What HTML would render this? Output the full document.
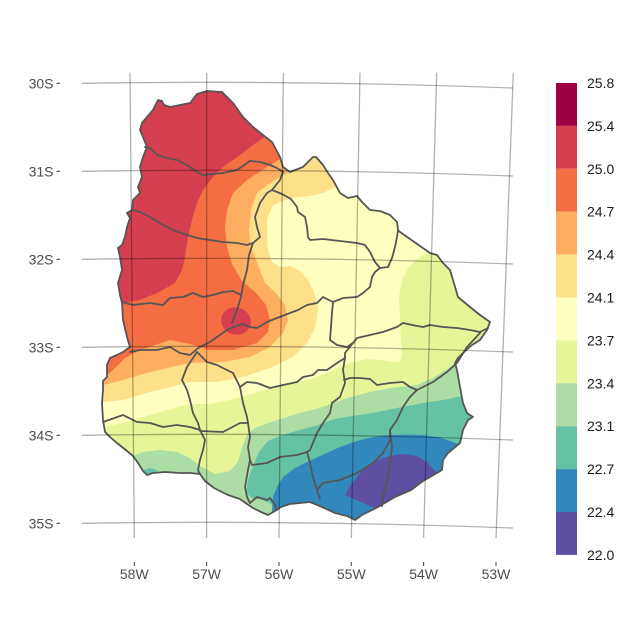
<!DOCTYPE html>
<html><head><meta charset="utf-8"><style>
html,body{margin:0;padding:0;background:#fff;}
svg{display:block;font-family:"Liberation Sans",sans-serif;}
</style></head><body>
<svg width="630" height="630" viewBox="0 0 630 630" xmlns="http://www.w3.org/2000/svg">
<defs>
<clipPath id="uy"><path id="uyp" d="M158,100 L162,101 L164,105 L170,107 L180,105 L190,103 L197,94 L207,91 L222,92 L227,97 L233,103 L243,117 L253,127 L263,135 L272,142 L280,157 L283,167 L290,172 L303,167 L310,160 L313,157 L316,157 L323,165 L328,173 L333,180 L340,193 L348,198 L357,196 L362,202 L370,210 L380,211 L390,215 L397,222 L398,230 L400,232 L430,253 L437,255 L443,263 L450,270 L453,280 L458,297 L470,307 L480,315 L490,322 L487,330 L480,340 L472,345 L463,353 L458,358 L455,363 L457,370 L460,387 L463,403 L467,413 L473,417 L468,420 L463,430 L460,443 L448,453 L443,460 L442,470 L437,473 L423,481 L411,490 L395,497 L378,507 L362,515 L355,520 L347,516 L335,513 L322,507 L310,502 L300,503 L290,504 L281,507 L275,511 L268,515 L261,512 L253,508 L247,504 L240,499 L228,495 L214,488 L205,481 L200,474 L190,473 L180,473 L165,472 L153,473 L147,475 L143,471 L138,463 L133,456 L127,451 L117,443 L110,437 L105,432 L103,420 L102,403 L103,390 L103,381 L107,377 L107,365 L110,358 L117,355 L123,352 L130,347 L127,337 L123,320 L122,303 L120,295 L118,283 L122,270 L120,257 L118,248 L122,245 L125,237 L127,227 L130,218 L127,213 L132,210 L133,200 L140,193 L138,187 L142,177 L140,167 L143,157 L147,147 L143,137 L140,130 L142,123 L147,117 L153,110 L156,104 Z"/></clipPath>
</defs>

<g clip-path="url(#uy)">
<rect x="0" y="0" width="630" height="630" fill="#FFFFBF"/>
<path fill="#E6F598" d="M90,427 L104,427 L123,423 L140,418 L160,412 L190,404 L210,404 L230,400 L257,392 L283,385 L307,380 L327,373 L340,367 L353,362 L367,359 L380,360 L393,362 L400,362 L402,353 L401,340 L400,320 L399,297 L402,280 L408,268 L418,258 L427,254 L440,246 L530,240 L530,560 L90,560 Z"/>
<path fill="#ABDDA4" d="M110,456 L133,456 L143,452 L160,450 L177,452 L190,458 L200,466 L215,474 L230,471 L238,462 L242,447 L248,433 L257,427 L277,420 L300,413 L323,407 L347,398 L370,392 L390,388 L417,385 L433,378 L450,367 L467,350 L477,340 L490,328 L530,320 L530,560 L110,560 Z"/>
<path fill="#66C2A5" d="M277,540 L276,510 L270,503 L262,500 L252,498 L246,493 L248,480 L253,466 L259,452 L268,441 L280,436 L296,431 L315,426 L335,419 L352,416 L373,413 L397,408 L423,403 L443,400 L457,397 L470,394 L530,390 L530,560 L277,560 Z"/>
<path fill="#66C2A5" d="M143,470 L150,468 L157,470 L158,477 L143,477 Z"/>
<path fill="#3288BD" d="M272,540 L272,512 L273,497 L277,487 L283,477 L295,468 L307,462 L320,456 L340,447 L357,441 L373,437 L390,435 L407,434.5 L423,435 L440,437.5 L453,442 L463,446 L530,450 L530,560 L272,560 Z"/>
<path fill="#5E4FA2" d="M345,495 L352,483 L363,470 L377,460 L390,456 L403,454 L417,456 L427,462 L437,473 L450,490 L400,530 L392,516 Z"/>
<path fill="#FEE08B" d="M60,410 L103,402 L123,400 L150,392 L190,382 L217,382 L243,377 L270,368 L293,357 L307,343 L315,328 L317,318 L318,308 L315,295 L309,281 L300,271 L290,266 L280,267 L272,262 L268,250 L267,237 L267,220 L273,205 L290,198 L310,196 L323,193 L336,187 L350,178 L350,60 L60,60 Z"/>
<path fill="#FDAE61" d="M60,390 L103,385 L123,380 L150,372 L190,363 L223,362 L250,357 L270,347 L283,333 L288,320 L285,305 L276,293 L265,283 L258,265 L251,247 L249,230 L251,210 L257,193 L270,183 L287,173 L296,169 L305,163 L312,155 L312,60 L60,60 Z"/>
<path fill="#F46D43" d="M60,380 L104,378 L115,368 L125,358 L140,350 L170,340 L190,344 L210,350 L233,350 L257,343 L268,332 L270,320 L266,305 L256,293 L242,281 L232,264 L227,247 L225,227 L227,210 L233,193 L247,180 L267,167 L282,158 L295,140 L295,60 L60,60 Z"/>
<path fill="#D53E4F" d="M60,310 L118,304 L140,300 L157,293 L175,283 L182,270 L185,257 L188,237 L192,220 L197,203 L203,190 L213,177 L223,167 L240,155 L253,145 L266,136 L275,120 L275,60 L60,60 Z"/>
<ellipse cx="236" cy="321" rx="15" ry="13.5" fill="#D53E4F" transform="rotate(20 236 321)"/>
</g>

<g fill="none" stroke="#555" stroke-width="1.8" stroke-linejoin="round" stroke-linecap="round">
<path d="M145,147 L150,148 L157,155 L167,158 L177,160 L187,165 L197,172 L203,175 L213,174 L223,173 L237,170 L250,161 L260,162 L270,165 L277,168 L283,172"/>
<path d="M133,210 L140,212 L150,217 L160,223 L173,230 L187,235 L197,238 L210,240 L223,242 L237,243 L247,245 L253,243 L260,237 L257,227 L255,217 L260,203 L267,193 L272,190 L280,180 L283,172"/>
<path d="M272,190 L282,194 L291,199 L297,207 L298,212 L305,217 L307,227 L308,237 L310,240 L323,239 L340,241 L357,243 L365,245 L370,252 L375,262 L380,268 L388,267 L392,258 L395,247 L397,237 L398,230"/>
<path d="M253,243 L249,255 L247,270 L243,285 L241,297 L237,310 L232,323"/>
<path d="M122,302 L133,305 L150,303 L163,305 L170,298 L183,297 L193,293 L203,297 L213,295 L223,292 L233,291 L241,295"/>
<path d="M130,352 L140,350 L157,350 L170,347 L180,353 L190,355 L197,349 L200,347 L210,342 L217,337 L227,330 L233,327 L243,324 L250,327 L257,328 L267,322 L277,318 L290,313 L298,310 L307,305 L317,303 L323,297 L333,302"/>
<path d="M333,302 L343,298 L357,297 L363,293 L370,287 L372,277 L375,272 L380,268"/>
<path d="M333,302 L332,313 L331,327 L330,340 L337,345 L347,347 L353,343 L357,338 L370,335 L383,332 L397,327 L403,323 L417,326 L423,327 L430,325 L443,327 L457,328 L470,330 L480,332 L488,328"/>
<path d="M197,352 L187,367 L182,380 L187,390 L190,400 L193,413 L198,423 L200,430"/>
<path d="M197,352 L207,362 L217,365 L233,373 L240,387"/>
<path d="M240,387 L247,382 L257,383 L270,388 L283,385 L297,382 L303,377 L313,375 L318,370 L327,370 L337,363 L345,358 L345,353 L353,343"/>
<path d="M240,387 L243,403 L247,417 L248,423"/>
<path d="M103,422 L123,415 L137,422 L150,423 L163,427 L177,425 L190,427 L200,430 L205,440 L203,450 L200,460 L198,470 L200,474"/>
<path d="M200,431 L223,432 L240,423 L248,423"/>
<path d="M248,423 L250,437 L248,447 L250,460 L248,470 L245,487 L247,497 L250,503"/>
<path d="M250,460 L252,465 L267,463 L280,457 L297,455 L307,452"/>
<path d="M307,452 L310,463 L313,477 L317,490 L320,499"/>
<path d="M345,358 L343,370 L345,383 L340,397 L332,403 L330,413 L323,423 L317,433 L310,450 L307,452"/>
<path d="M344,380 L350,378 L360,378 L370,379 L377,385 L390,383 L403,382 L410,387 L417,390"/>
<path d="M417,390 L433,382 L447,372 L457,363 L467,347 L480,333"/>
<path d="M417,390 L410,397 L403,407 L397,420 L390,430 L390,440 L383,453 L373,463 L357,473 L340,480 L323,483 L317,490"/>
<path d="M390,430 L392,447 L390,463 L387,480 L383,497 L382,506"/>
<path d="M250,503 L257,497 L267,500 L270,498 L275,505 L277,510"/>
</g>
<use href="#uyp" fill="none" stroke="#555" stroke-width="1.8" stroke-linejoin="round"/>

<g fill="none" stroke="#000" stroke-opacity="0.3" stroke-width="1.3">
<path d="M130,72.7 L134.3,538"/>
<path d="M206.7,72.7 L206.6,538"/>
<path d="M283.3,72.7 L279,538"/>
<path d="M360,72.7 L351.3,538"/>
<path d="M436.7,72.7 L423.6,538"/>
<path d="M513.3,72.7 L496,538"/>
<path d="M82,83.3 Q297.9,79.9 513,88"/>
<path d="M82,171.3 Q297.9,167.9 513,176"/>
<path d="M82,259.3 Q297.9,255.9 513,264"/>
<path d="M82,347.3 Q297.9,343.9 513,352"/>
<path d="M82,435.3 Q297.9,431.9 513,440"/>
<path d="M82,523.3 Q297.9,519.9 513,528"/>
</g>

<g stroke="#4d4d4d" stroke-width="1.1">
<path d="M56.5,83.3 H60 M56.5,171.3 H60 M56.5,259.3 H60 M56.5,347.3 H60 M56.5,435.3 H60 M56.5,523.3 H60"/>
<path d="M134.3,562 V566 M206.6,562 V566 M279,562 V566 M351.3,562 V566 M423.6,562 V566 M496,562 V566"/>
</g>

<g fill="#4d4d4d" font-size="14" text-anchor="end">
<text x="53.5" y="88.3">30S</text>
<text x="53.5" y="176.3">31S</text>
<text x="53.5" y="264.3">32S</text>
<text x="53.5" y="352.3">33S</text>
<text x="53.5" y="440.3">34S</text>
<text x="53.5" y="528.3">35S</text>
</g>
<g fill="#4d4d4d" font-size="14" text-anchor="middle">
<text x="134.3" y="579">58W</text>
<text x="206.6" y="579">57W</text>
<text x="279" y="579">56W</text>
<text x="351.3" y="579">55W</text>
<text x="423.6" y="579">54W</text>
<text x="496" y="579">53W</text>
</g>

<g>
<rect x="556" y="83" width="21" height="42.9" fill="#9E0142"/>
<rect x="556" y="125.9" width="21" height="42.9" fill="#D53E4F"/>
<rect x="556" y="168.8" width="21" height="42.9" fill="#F46D43"/>
<rect x="556" y="211.7" width="21" height="42.9" fill="#FDAE61"/>
<rect x="556" y="254.6" width="21" height="42.9" fill="#FEE08B"/>
<rect x="556" y="297.5" width="21" height="42.9" fill="#FFFFBF"/>
<rect x="556" y="340.4" width="21" height="42.9" fill="#E6F598"/>
<rect x="556" y="383.3" width="21" height="42.9" fill="#ABDDA4"/>
<rect x="556" y="426.2" width="21" height="42.9" fill="#66C2A5"/>
<rect x="556" y="469.1" width="21" height="42.9" fill="#3288BD"/>
<rect x="556" y="512" width="21" height="42.9" fill="#5E4FA2"/>
</g>
<g fill="#1a1a1a" font-size="14">
<text x="587" y="88">25.8</text>
<text x="587" y="130.9">25.4</text>
<text x="587" y="173.8">25.0</text>
<text x="587" y="216.7">24.7</text>
<text x="587" y="259.6">24.4</text>
<text x="587" y="302.5">24.1</text>
<text x="587" y="345.4">23.7</text>
<text x="587" y="388.3">23.4</text>
<text x="587" y="431.2">23.1</text>
<text x="587" y="474.1">22.7</text>
<text x="587" y="517">22.4</text>
<text x="587" y="559.9">22.0</text>
</g>
</svg>
</body></html>
